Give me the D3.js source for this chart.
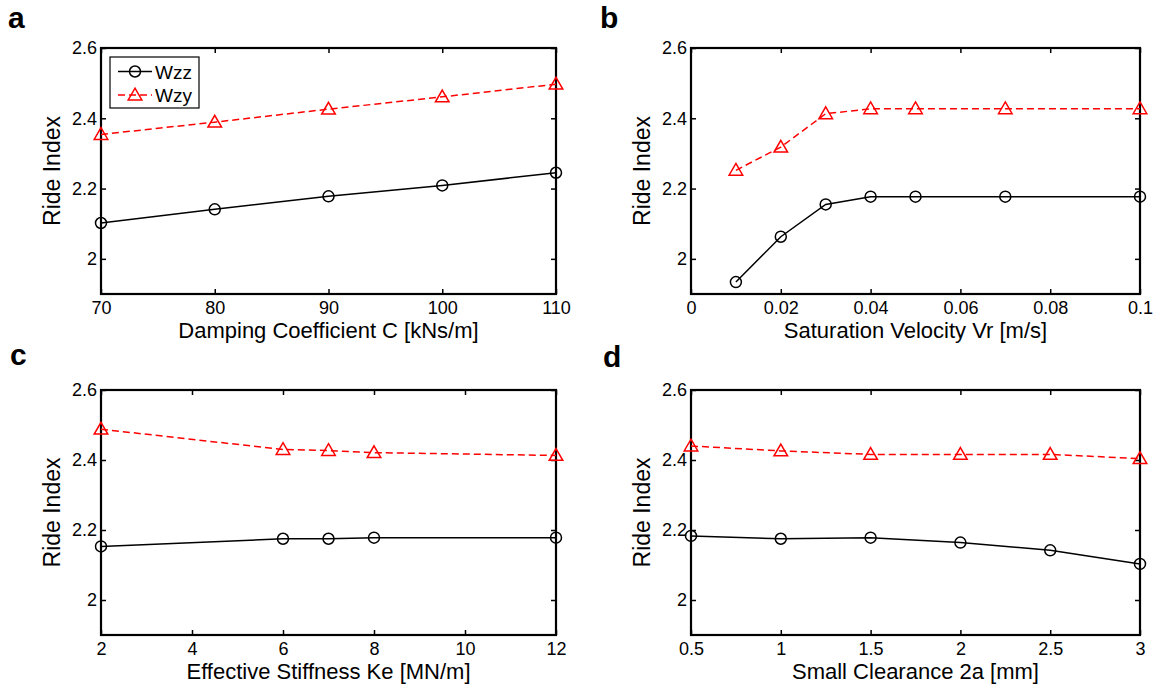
<!DOCTYPE html>
<html><head><meta charset="utf-8">
<script src="https://cdn.jsdelivr.net/npm/d3@7"></script>
<style>
body{margin:0;background:#fff;}
svg text{font-family:"Liberation Sans",Arial,sans-serif;}
</style></head>
<body><svg id="c" width="1154" height="688"></svg>
<script>
// Panel a
const aX = [70, 80, 90, 100, 110];
const aWzz = [2.102, 2.141, 2.178, 2.209, 2.245];
const aWzy = [2.354, 2.389, 2.426, 2.461, 2.497];
const aTicks = [70, 80, 90, 100, 110];
// Panel b
const bX = [0.01, 0.02, 0.03, 0.04, 0.05, 0.07, 0.1];
const bWzz = [1.934, 2.063, 2.155, 2.177, 2.177, 2.177, 2.177];
const bWzy = [2.252, 2.318, 2.413, 2.427, 2.427, 2.427, 2.427];
const bTicks = [0, 0.02, 0.04, 0.06, 0.08, 0.1];
// Panel c
const cX = [2, 6, 7, 8, 12];
const cWzz = [2.153, 2.175, 2.175, 2.178, 2.178];
const cWzy = [2.488, 2.430, 2.427, 2.421, 2.413];
const cTicks = [2, 4, 6, 8, 10, 12];
// Panel d
const dX = [0.5, 1, 1.5, 2, 2.5, 3];
const dWzz = [2.183, 2.175, 2.178, 2.164, 2.142, 2.103];
const dWzy = [2.440, 2.426, 2.416, 2.416, 2.416, 2.404];
const dTicks = [0.5, 1, 1.5, 2, 2.5, 3];

const yTicks = [2, 2.2, 2.4, 2.6];
const yDomain = [1.9, 2.6];
const seriesNames = ["Wzz", "Wzy"];

const panels = [
  {letter:"a", xs:aX, s1:aWzz, s2:aWzy, ticks:aTicks, dom:[70,110], xlabel:"Damping Coefficient C [kNs/m]", fmt:d=>String(d), legend:true,
   box:{l:101,r:556,t:48,b:294}, lp:{x:8,y:28}},
  {letter:"b", xs:bX, s1:bWzz, s2:bWzy, ticks:bTicks, dom:[0,0.1], xlabel:"Saturation Velocity Vr [m/s]", fmt:d=>d===0?"0":String(d), legend:false,
   box:{l:691,r:1140,t:48,b:294}, lp:{x:600,y:28}},
  {letter:"c", xs:cX, s1:cWzz, s2:cWzy, ticks:cTicks, dom:[2,12], xlabel:"Effective Stiffness Ke [MN/m]", fmt:d=>String(d), legend:false,
   box:{l:101,r:556,t:390,b:635}, lp:{x:10,y:365}},
  {letter:"d", xs:dX, s1:dWzz, s2:dWzy, ticks:dTicks, dom:[0.5,3], xlabel:"Small Clearance 2a [mm]", fmt:d=>String(d), legend:false,
   box:{l:691,r:1140,t:390,b:635}, lp:{x:603,y:367}}
];

const svg = d3.select("#c");
const tri = d3.symbol().type(d3.symbolTriangle).size(80);

panels.forEach(p => {
  const b = p.box;
  const x = d3.scaleLinear().domain(p.dom).range([b.l, b.r]);
  const y = d3.scaleLinear().domain(yDomain).range([b.b, b.t]);
  const g = svg.append("g");

  g.append("text").attr("x", p.lp.x).attr("y", p.lp.y).attr("font-size", 30).attr("font-weight", "bold").text(p.letter);

  const tl = 5;
  const ax = g.append("g").attr("transform", `translate(0,${b.b})`)
    .call(d3.axisBottom(x).tickValues(p.ticks).tickFormat(p.fmt).tickSizeInner(-tl).tickSizeOuter(0).tickPadding(7));
  const axT = g.append("g").attr("transform", `translate(0,${b.t})`)
    .call(d3.axisTop(x).tickValues(p.ticks).tickFormat("").tickSizeInner(-tl).tickSizeOuter(0));
  const ay = g.append("g").attr("transform", `translate(${b.l},0)`)
    .call(d3.axisLeft(y).tickValues(yTicks).tickFormat(d=>d===2?"2":d3.format(".1f")(d)).tickSizeInner(-tl).tickSizeOuter(0).tickPadding(4));
  const ayR = g.append("g").attr("transform", `translate(${b.r},0)`)
    .call(d3.axisRight(y).tickValues(yTicks).tickFormat("").tickSizeInner(-tl).tickSizeOuter(0));
  [ax, axT, ay, ayR].forEach(a => {
    a.select(".domain").remove();
    a.selectAll("line").attr("stroke", "#000").attr("stroke-width", 1.5);
    a.selectAll("text").attr("font-size", 18).attr("fill", "#000").attr("font-family", "Liberation Sans, Arial, sans-serif");
  });
  g.append("rect").attr("x", b.l).attr("y", b.t).attr("width", b.r - b.l).attr("height", b.b - b.t)
    .attr("fill", "none").attr("stroke", "#000").attr("stroke-width", 2.2);

  g.append("text").attr("x", (b.l + b.r) / 2).attr("y", b.b + 44).attr("text-anchor", "middle")
    .attr("font-size", 22).text(p.xlabel);
  const ylx = b.l - 41, yly = (b.t + b.b) / 2;
  g.append("text").attr("transform", `translate(${ylx},${yly}) rotate(-90)`).attr("text-anchor", "middle")
    .attr("font-size", 23).text("Ride Index");

  const line = d3.line().x((d,i) => x(p.xs[i])).y(d => y(d));
  g.append("path").datum(p.s1).attr("d", line).attr("fill", "none").attr("stroke", "#000").attr("stroke-width", 1.5);
  g.append("path").datum(p.s2).attr("d", line).attr("fill", "none").attr("stroke", "#ff0000").attr("stroke-width", 1.5).attr("stroke-dasharray", "7,4");
  g.selectAll("circle.m").data(p.s1).join("circle").attr("cx", (d,i) => x(p.xs[i])).attr("cy", d => y(d))
    .attr("r", 5.5).attr("fill", "none").attr("stroke", "#000").attr("stroke-width", 1.5);
  g.selectAll("path.t").data(p.s2).join("path").attr("d", tri)
    .attr("transform", (d,i) => `translate(${x(p.xs[i])},${y(d) + 1})`)
    .attr("fill", "none").attr("stroke", "#ff0000").attr("stroke-width", 1.5);

  if (p.legend) {
    const lx = 110, ly = 57, lw = 89, lh = 51;
    g.append("rect").attr("x", lx).attr("y", ly).attr("width", lw).attr("height", lh)
      .attr("fill", "#fff").attr("stroke", "#000").attr("stroke-width", 1.2);
    const rows = [{n: seriesNames[0], yy: ly + 14.5, red: false}, {n: seriesNames[1], yy: ly + 38, red: true}];
    rows.forEach(r => {
      g.append("line").attr("x1", lx + 8).attr("x2", lx + 42).attr("y1", r.yy).attr("y2", r.yy)
        .attr("stroke", r.red ? "#ff0000" : "#000").attr("stroke-width", 1.5).attr("stroke-dasharray", r.red ? "7,4" : null);
      if (r.red) {
        g.append("path").attr("d", tri).attr("transform", `translate(${lx + 25},${r.yy + 1})`)
          .attr("fill", "none").attr("stroke", "#ff0000").attr("stroke-width", 1.5);
      } else {
        g.append("circle").attr("cx", lx + 25).attr("cy", r.yy).attr("r", 5.5).attr("fill", "none").attr("stroke", "#000").attr("stroke-width", 1.5);
      }
      g.append("text").attr("x", lx + 45).attr("y", r.yy + 7).attr("font-size", 19).text(r.n);
    });
  }
});
</script></body></html>
